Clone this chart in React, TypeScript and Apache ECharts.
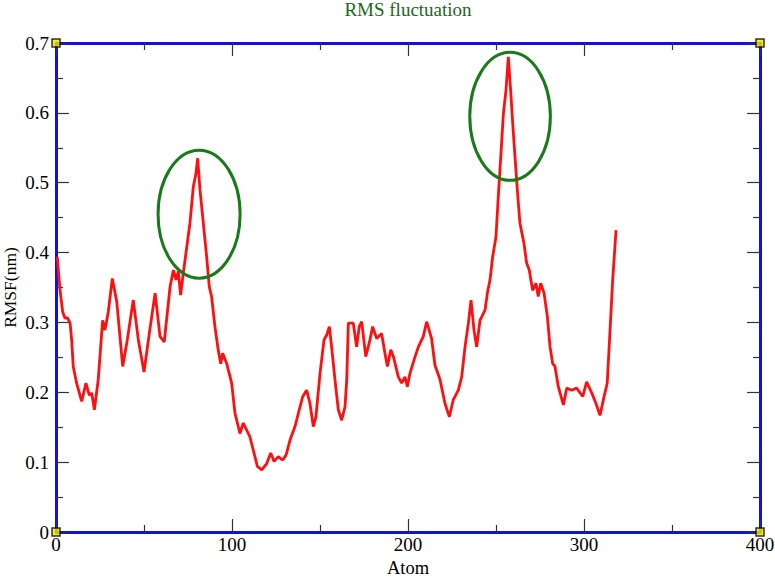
import React, { useEffect, useRef } from "react";
import * as echarts from "echarts";

const atoms = [
  0.7, 2.3, 3.8, 5.1, 6.4, 8, 8.9, 9.8, 11.7, 14.6, 17, 18.9, 20.3, 21.8, 24, 26.5, 27.8, 29.7, 32, 34.5,
  37.9, 40.5, 43.9, 46.8, 50, 53, 56.3, 59.1, 61.5, 64.8, 66.7, 68.2, 69.5, 70.8, 72.3, 74.3, 76.1, 78, 79.5, 80.5,
  81.8, 83.7, 85.6, 87.1, 88.4, 90.3, 92.2, 93.6, 94.7, 97, 99.8, 101.7, 104.5, 106.4, 108.3, 110.2, 112.1, 114.4, 116.9, 119.7,
  122, 123.9, 126.3, 128.8, 130.7, 133, 135.8, 137.7, 140.2, 142.4, 144.3, 146.2, 147.7, 150, 152.3, 153.8, 155.3, 156.6, 158.5, 160.4,
  162.3, 164.2, 165.2, 166.1, 168.9, 170.8, 172.3, 173.7, 176, 178.4, 179.9, 182.2, 185, 186.9, 188.3, 190.2, 191.7, 194.5, 196.4, 198.3,
  199.6, 201.1, 204, 205.9, 208.7, 210.6, 213.4, 215.3, 218.2, 221, 223.5, 225.7, 228.6, 230.5, 232.4, 234.3, 235.8, 237.5, 239, 240.9,
  243.8, 245.1, 246.6, 248.1, 250, 251.3, 252.7, 254.2, 255.7, 257, 258.3, 259.5, 260.8, 262.1, 263.6, 265.9, 267.4, 268.9, 270.8, 272.7,
  274, 275.4, 277.3, 279.2, 280.7, 282.2, 283.5, 285.4, 288.3, 290.2, 293, 295.8, 299.3, 301.5, 304.4, 306.8, 309.1, 311.4, 313.2, 314.8,
  316.3, 318.2,
];

const rmsf = [
  0.394, 0.346, 0.315, 0.306, 0.307, 0.299, 0.275, 0.237, 0.213, 0.187, 0.213, 0.196, 0.199, 0.175, 0.218, 0.303, 0.289, 0.315, 0.363, 0.33,
  0.237, 0.275, 0.332, 0.275, 0.229, 0.284, 0.342, 0.28, 0.272, 0.351, 0.375, 0.361, 0.373, 0.339, 0.37, 0.408, 0.442, 0.494, 0.513, 0.535,
  0.49, 0.442, 0.394, 0.351, 0.337, 0.294, 0.26, 0.241, 0.256, 0.241, 0.213, 0.17, 0.141, 0.156, 0.146, 0.136, 0.117, 0.094, 0.089, 0.098,
  0.113, 0.101, 0.108, 0.103, 0.11, 0.132, 0.151, 0.17, 0.194, 0.203, 0.184, 0.151, 0.165, 0.227, 0.275, 0.282, 0.294, 0.265, 0.218, 0.175,
  0.16, 0.179, 0.218, 0.299, 0.299, 0.265, 0.294, 0.301, 0.251, 0.275, 0.294, 0.277, 0.284, 0.256, 0.237, 0.261, 0.251, 0.222, 0.213, 0.222,
  0.208, 0.227, 0.251, 0.265, 0.28, 0.301, 0.277, 0.239, 0.218, 0.184, 0.165, 0.189, 0.203, 0.222, 0.265, 0.299, 0.332, 0.289, 0.265, 0.303,
  0.318, 0.342, 0.361, 0.394, 0.423, 0.48, 0.537, 0.599, 0.633, 0.68, 0.633, 0.585, 0.537, 0.49, 0.442, 0.413, 0.385, 0.375, 0.346, 0.356,
  0.337, 0.356, 0.342, 0.308, 0.265, 0.241, 0.237, 0.208, 0.182, 0.206, 0.203, 0.206, 0.194, 0.215, 0.199, 0.184, 0.167, 0.194, 0.213, 0.289,
  0.361, 0.432,
];

const xTicks = [0, 100, 200, 300, 400];
const yTicks = [0, 0.1, 0.2, 0.3, 0.4, 0.5, 0.6, 0.7];

// highlighted peaks: centre atom, centre rmsf, half-width (atoms), half-height (nm)
const ellipseAtom = [81.3, 258];
const ellipseRmsf = [0.455, 0.595];
const ellipseHalfW = [23.3, 22.9];
const ellipseHalfH = [0.0916, 0.0916];

const cornerAtom = [0, 0, 400, 400];
const cornerRmsf = [0, 0.7, 0, 0.7];

const serif = "Liberation Serif";

export default function App() {
  const ref = useRef<HTMLDivElement>(null);
  useEffect(() => {
    if (!ref.current) return;
    const chart = echarts.init(ref.current, undefined, { renderer: "svg" });
    const lineData = atoms.map((a, i) => [a, rmsf[i]]);
    const ellData = ellipseAtom.map((a, i) => [a, ellipseRmsf[i], ellipseHalfW[i], ellipseHalfH[i]]);
    const cornerData = cornerAtom.map((a, i) => [a, cornerRmsf[i]]);
    const tickStyle = { color: "#333", width: 1.2 };
    const axisLine = { show: true, onZero: false, lineStyle: { color: "#1010e0", width: 3 } };
    const xCommon = {
      type: "value" as const,
      min: xTicks[0],
      max: xTicks[xTicks.length - 1],
      interval: 100,
      splitLine: { show: false },
      axisLine,
      axisTick: { show: true, inside: true, length: 13, lineStyle: tickStyle },
      minorTick: { show: true, splitNumber: 2, length: 7, lineStyle: tickStyle },
    };
    const yCommon = {
      type: "value" as const,
      min: yTicks[0],
      max: yTicks[yTicks.length - 1],
      interval: 0.1,
      splitLine: { show: false },
      axisLine,
      axisTick: { show: true, inside: true, length: 13, lineStyle: tickStyle },
      minorTick: { show: true, splitNumber: 2, length: 7, lineStyle: tickStyle },
    };
    chart.setOption({
      animation: false,
      backgroundColor: "#ffffff",
      title: {
        text: "RMS fluctuation",
        left: 408,
        top: 0,
        padding: [0, 0, 0, 0],
        textAlign: "center",
        textStyle: { fontFamily: serif, fontSize: 19, fontWeight: "normal", color: "#1c661c" },
      },
      grid: { left: 56, right: 15, top: 43, bottom: 45, outerBoundsMode: "none", containLabel: false },
      xAxis: [
        {
          ...xCommon,
          position: "bottom",
          name: "Atom",
          nameLocation: "middle",
          nameGap: 17,
          nameTextStyle: { fontFamily: serif, fontSize: 18.5, color: "#000" },
          axisLabel: { show: true, margin: 3, fontFamily: serif, fontSize: 19, color: "#000" },
        },
        { ...xCommon, position: "top", axisLabel: { show: false } },
      ],
      yAxis: [
        {
          ...yCommon,
          position: "left",
          name: "RMSF(nm)",
          nameLocation: "middle",
          nameGap: 37,
          nameMoveOverlap: false,
          nameRotate: 90,
          nameTextStyle: { fontFamily: serif, fontSize: 17.5, color: "#000" },
          axisLabel: {
            show: true,
            margin: 7,
            fontFamily: serif,
            fontSize: 19,
            color: "#000",
            formatter: (v: number) => (v === 0 ? "0" : v.toFixed(1)),
          },
        },
        { ...yCommon, position: "right", axisLabel: { show: false } },
      ],
      series: [
        {
          type: "line",
          data: lineData,
          showSymbol: false,
          symbol: "none",
          lineStyle: { color: "#ff1010", width: 2.8 },
          z: 3,
        },
        {
          type: "custom",
          data: ellData,
          clip: false,
          z: 4,
          renderItem: (params: any, api: any) => {
            const c = api.coord([api.value(0), api.value(1)]);
            const s = api.size([api.value(2), api.value(3)]);
            return {
              type: "ellipse",
              shape: { cx: c[0], cy: c[1], rx: s[0], ry: s[1] },
              style: { fill: "none", stroke: "#1a7a1a", lineWidth: 3 },
            };
          },
        },
        {
          type: "scatter",
          data: cornerData,
          clip: false,
          symbol: "rect",
          symbolSize: 8,
          itemStyle: { color: "#f2e600", borderColor: "#000", borderWidth: 1.5 },
          z: 5,
        },
      ],
    });
    return () => chart.dispose();
  }, []);
  return (
    <div
      ref={ref}
      style={{ position: "fixed", left: 0, top: 0, width: 775, height: 577, background: "#fff" }}
    />
  );
}
